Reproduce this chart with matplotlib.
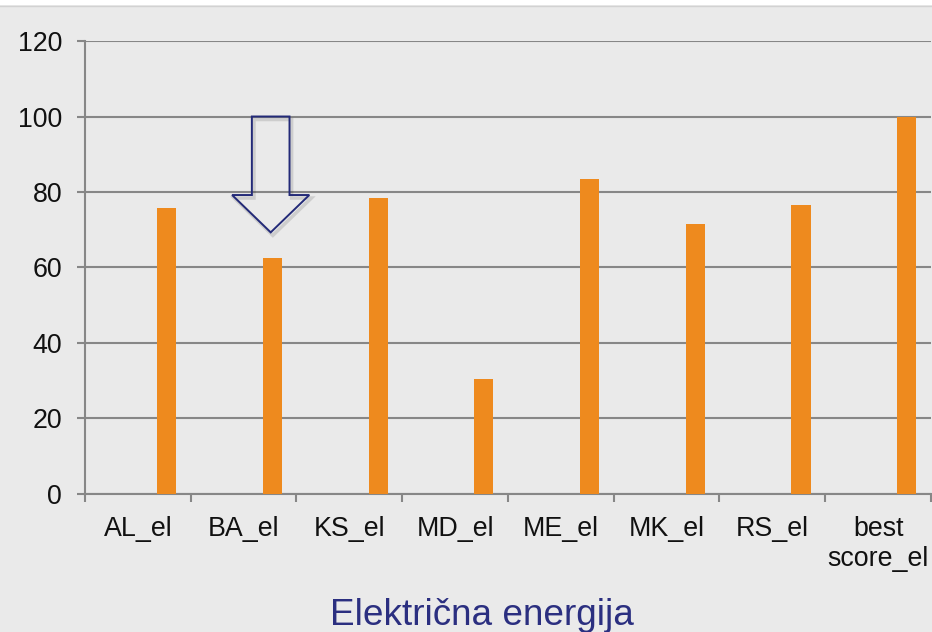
import numpy as np
import matplotlib
matplotlib.use("Agg")
import matplotlib.pyplot as plt
from matplotlib.patches import Polygon, Rectangle
from matplotlib.lines import Line2D

# Data
categories = ["AL_el", "BA_el", "KS_el", "MD_el", "ME_el", "MK_el", "RS_el", "best\nscore_el"]
values = [75.7, 62.4, 78.4, 30.5, 83.4, 71.4, 76.5, 100.0]
y_ticks = [0, 20, 40, 60, 80, 100, 120]
title = "Električna energija"

bg = "#eaeaea"
bar_color = "#ee8a1e"
grid_color = "#878787"
navy = "#232a78"

plt.rcParams['font.family'] = ['Liberation Sans', 'DejaVu Sans']

fig = plt.figure(figsize=(9.32, 6.32), dpi=100, facecolor=bg)
ax = fig.add_axes([0.0912, 0.2184, 0.9077, 0.7167])
ax.set_facecolor(bg)

# white strip on the top edge of the slide
fig.patches.append(Rectangle((0, 1 - 5 / 632), 1, 5 / 632, transform=fig.transFigure,
                             facecolor="white", edgecolor="none"))
fig.lines.append(Line2D([0, 1], [1 - 5.5 / 632] * 2, transform=fig.transFigure,
                        color="#d2d2d2", lw=1.0))

x = np.arange(len(categories))
# bars sit on the right half of each slot (first series of the group is empty)
ax.bar(x + 0.271, values, width=0.18, color=bar_color, zorder=3)

ax.set_xlim(-0.5, len(categories) - 0.5)
ax.set_ylim(0, 120)
ax.set_yticks(y_ticks)
ax.set_yticklabels([str(v) for v in y_ticks])
ax.yaxis.grid(True, color=grid_color, lw=1.5, zorder=1)
ax.set_axisbelow(True)

# category boundaries as major ticks, labels as minor ticks in the middle
ax.set_xticks(np.arange(-0.5, len(categories), 1.0))
ax.set_xticklabels([])
ax.set_xticks(x, minor=True)
ax.set_xticklabels(categories, minor=True, linespacing=1.2)
ax.tick_params(axis="x", which="major", direction="out", length=6, width=1.5, color=grid_color)
ax.tick_params(axis="x", which="minor", length=0, pad=16, labelsize=19.3, labelcolor="#111111")
ax.tick_params(axis="y", direction="out", length=6, width=1.5, color=grid_color,
               pad=10.5, labelsize=19.3, labelcolor="#111111")

for side in ["top", "right"]:
    ax.spines[side].set_visible(False)
for side in ["left", "bottom"]:
    ax.spines[side].set_color(grid_color)
    ax.spines[side].set_linewidth(1.5)

# down arrow annotation above BA_el
cx = 1.256
arrow_pts = [(cx - 0.178, 100), (cx + 0.178, 100), (cx + 0.178, 79.2), (cx + 0.365, 79.2),
             (cx, 69.3), (cx - 0.365, 79.2), (cx - 0.178, 79.2)]
shadow = Polygon([(px + 0.02, py - 0.8) for px, py in arrow_pts], closed=True, fill=False,
                 edgecolor="#000000", alpha=0.12, lw=2.5, zorder=4)
ax.add_patch(shadow)
ax.add_patch(Polygon(arrow_pts, closed=True, fill=False, edgecolor=navy, lw=1.4,
                     joinstyle="miter", zorder=5))

fig.text(0.517, 1 - 625 / 632, title, ha="center", va="baseline", fontsize=26.6, color="#2b2f80")

fig.savefig("out.png", dpi=100, facecolor=bg)
